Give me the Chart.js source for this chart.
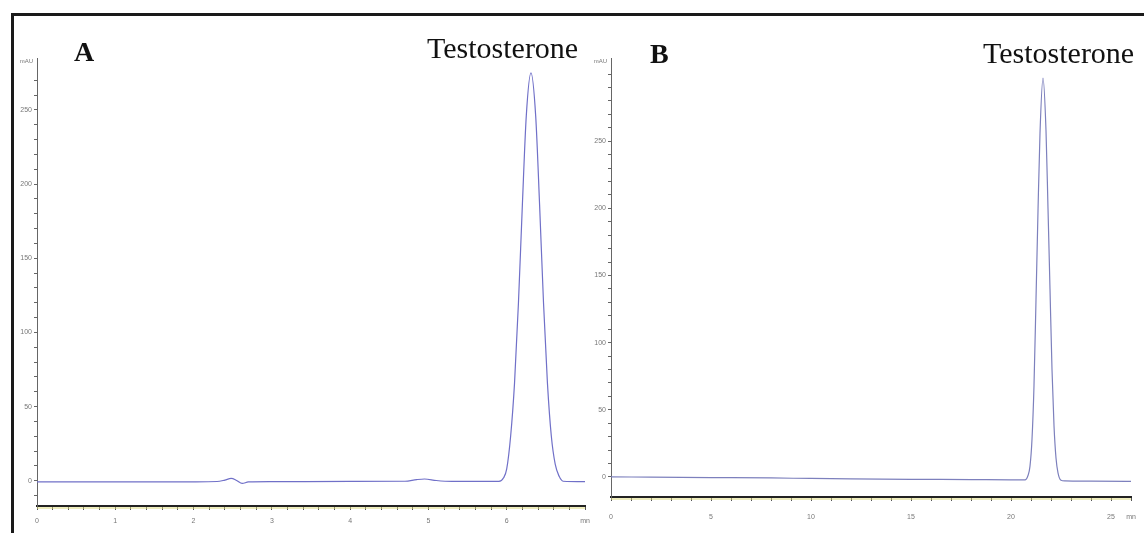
<!DOCTYPE html>
<html>
<head>
<meta charset="utf-8">
<script src="https://cdn.jsdelivr.net/npm/chart.js@4.4.1/dist/chart.umd.min.js"></script>
<style>
  body { margin: 0; background: #fff; width: 1144px; height: 533px; overflow: hidden; position: relative; }
  .frame { position: absolute; left: 11px; top: 13px; width: 1140px; height: 530px; border-top: 3px solid #1a1a1a; border-left: 3px solid #1a1a1a; }
  .wrap { position: absolute; top: 40px; height: 493px; }
  .lbl { position: absolute; font-family: "Liberation Serif", "Times New Roman", serif; color: #111; white-space: nowrap; line-height: 1; }
  .bold { font-weight: bold; font-size: 28px; }
  .name { font-size: 30px; }
</style>
</head>
<body>
<div class="frame"></div>
<div class="wrap" style="left:14px; width:576px;"><canvas id="chartA"></canvas></div>
<div class="wrap" style="left:590px; width:554px;"><canvas id="chartB"></canvas></div>
<div class="lbl bold" style="left:74px; top:38px;">A</div>
<div class="lbl name" style="left:427px; top:33px;">Testosterone</div>
<div class="lbl bold" style="left:650px; top:40px;">B</div>
<div class="lbl name" style="left:983px; top:38px;">Testosterone</div>
<script>
// Panel A: retention time (min) and absorbance (mAU)
const timeA = [0, 1, 2, 2.3, 2.4, 2.48, 2.55, 2.62, 2.7, 3, 4, 4.7, 4.85, 4.95, 5.1, 5.3,
  5.9, 5.96, 6.0, 6.05, 6.1, 6.15, 6.2, 6.25, 6.31, 6.37, 6.42, 6.47, 6.52, 6.57, 6.62, 6.67, 6.72, 7];
const signalA = [-0.8, -0.8, -0.7, -0.5, 0.5, 1.6, 0.2, -1.8, -0.8, -0.6, -0.4, -0.3, 0.8, 1.2, 0.2, -0.4,
  -0.4, 2, 8, 30, 66, 120, 186, 246, 275, 246, 186, 120, 66, 30, 11, 3, -0.3, -0.6];

// Panel B
const timeB = [0, 2, 5, 8, 10, 12, 15, 18, 20, 20.7, 20.85, 20.95, 21.05, 21.15, 21.25, 21.35, 21.45, 21.6,
  21.75, 21.85, 21.95, 22.05, 22.15, 22.25, 22.35, 22.5, 22.7, 24, 26];
const signalB = [0, -0.2, -0.5, -0.8, -1.2, -1.5, -1.8, -2, -2.2, -2.2, 1, 8, 28, 68, 132, 198, 256, 297,
  258, 200, 140, 80, 38, 14, 3, -2.5, -3, -3.2, -3.4];

const ticksXA = [0, 1, 2, 3, 4, 5, 6];
const ticksXB = [0, 5, 10, 15, 20, 25];
const ticksY = [0, 50, 100, 150, 200, 250];

const tickFont = { family: 'Arial, "Liberation Sans", sans-serif', size: 7 };

const axisDecor = {
  id: 'axisDecor',
  afterDraw(chart) {
    const { ctx, chartArea } = chart;
    ctx.save();
    // yellow trace running just under the time axis
    ctx.strokeStyle = '#dcd97a';
    ctx.lineWidth = 1;
    ctx.beginPath();
    ctx.moveTo(chartArea.left, chartArea.bottom + 2);
    ctx.lineTo(chartArea.right, chartArea.bottom + 2);
    ctx.stroke();
    ctx.fillStyle = '#777';
    ctx.font = '6px Arial, sans-serif';
    ctx.textAlign = 'right';
    ctx.textBaseline = 'middle';
    ctx.fillText('mAU', chartArea.left - 4, chartArea.top + 3);
    ctx.restore();
  }
};

function noPad(s) {
  s.paddingLeft = 0; s.paddingRight = 0; s.paddingTop = 0; s.paddingBottom = 0;
}

function makeChart(id, times, values, color, xMax, xStep, xLabels, yMin, yMax, yWidth, xHeight, padRight, xPad) {
  const points = times.map((t, i) => ({ x: t, y: values[i] }));
  return new Chart(document.getElementById(id), {
    type: 'line',
    data: {
      datasets: [{
        data: points,
        borderColor: color,
        borderWidth: 1.2,
        pointRadius: 0,
        cubicInterpolationMode: 'monotone',
        fill: false
      }]
    },
    options: {
      responsive: true,
      maintainAspectRatio: false,
      animation: false,
      layout: { padding: { top: 18, right: padRight, left: 0, bottom: 0 } },
      plugins: { legend: { display: false }, tooltip: { enabled: false } },
      scales: {
        x: {
          type: 'linear',
          min: 0,
          max: xMax,
          afterFit: (s) => { s.height = xHeight; noPad(s); },
          afterBuildTicks: (s) => {
            s.ticks = s.ticks.filter(t => Math.abs(t.value / xStep - Math.round(t.value / xStep)) < 1e-6);
          },
          border: { color: '#222', width: 2 },
          grid: { drawOnChartArea: false, tickLength: 4, color: '#555' },
          ticks: {
            stepSize: xStep,
            autoSkip: false,
            maxRotation: 0,
            font: tickFont,
            color: '#777',
            padding: xPad,
            callback: (v) => {
              if (Math.abs(v - xMax) < 1e-6) return 'mn';
              return xLabels.some(l => Math.abs(l - v) < 1e-6) ? String(Math.round(v)) : '';
            }
          }
        },
        y: {
          min: yMin,
          max: yMax,
          afterFit: (s) => { s.width = yWidth; noPad(s); },
          afterBuildTicks: (s) => {
            s.ticks = s.ticks.filter(t => t.value % 10 === 0);
          },
          border: { color: '#666', width: 1 },
          grid: { drawOnChartArea: false, tickLength: 3, color: '#666' },
          ticks: {
            stepSize: 10,
            autoSkip: false,
            font: tickFont,
            color: '#777',
            padding: 2,
            callback: (v) => ticksY.includes(v) ? String(v) : ''
          }
        }
      }
    },
    plugins: [axisDecor]
  });
}

makeChart('chartA', timeA, signalA, '#7070c8', 7, 0.2, ticksXA, -17, 285, 23, 27, 5, 7);
makeChart('chartB', timeB, signalB, '#7d80bd', 26, 1, ticksXB, -15, 312, 21, 36, 13, 12);
</script>
</body>
</html>
